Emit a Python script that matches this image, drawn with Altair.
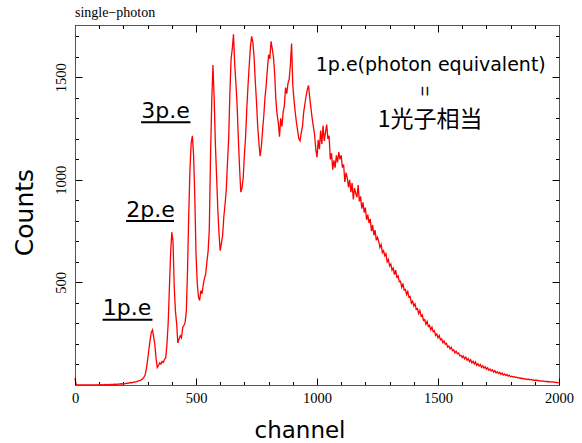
import altair as alt
import pandas as pd

# ---- data (5-channel steps) ----
STEP = 5
counts_low = [35, 0, 0, 0, 0, 0, 0, 0, 0, 0,
              0, 0, 0, 0, 0, 0, 0, 0, 0, 0,
              3, 1, 2, 1, 2, 3, 1, 2, 3, 2,
              3, 2, 4, 3, 4, 3, 5, 4, 6, 5,
              7, 6, 8, 9, 8, 10, 12, 11, 13, 15,
              14, 17, 19, 21, 23, 26, 30, 38, 50, 80]          # ch 0-295
counts_peaks = [120, 170, 215, 255, 268, 235, 195, 130, 85, 95,
                108, 102, 115, 110, 125, 132, 200, 300, 470, 640,
                745, 700, 480, 360, 300, 205, 225, 240, 230, 280,
                290, 305, 360, 560, 830, 1050, 1180, 1215, 1120, 920,
                640, 500, 430, 412, 460, 445, 490, 520, 540, 600,
                650, 760, 1110, 1380, 1560, 1400, 1180, 1020, 860, 740,
                655, 690, 730, 820, 880, 950, 1080, 1200, 1420, 1590,
                1640, 1710, 1560, 1470, 1360, 1200, 1060, 940, 960, 1010,
                1120, 1210, 1350, 1460, 1560, 1650, 1700, 1670, 1600, 1480,
                1380, 1260, 1180, 1115, 1160, 1240, 1310, 1400, 1460, 1540,
                1610, 1590, 1675, 1640, 1600, 1520, 1390, 1320, 1280, 1210,
                1300, 1260, 1330, 1360, 1450, 1420, 1470, 1490, 1560, 1665,
                1460, 1390, 1330, 1280, 1240, 1200, 1190, 1230, 1260, 1330,
                1370, 1410, 1440, 1460, 1400, 1350, 1300, 1260, 1220, 1150]  # ch 300-995
counts_tail = [1110, 1195, 1150, 1240, 1175, 1265, 1190, 1230, 1270, 1200,
               1215, 1100, 1130, 1050, 1095, 1060, 1120, 1085, 1135, 1100,
               1120, 1060, 1075, 990, 1035, 1010, 965, 1000, 940, 985,
               905, 960, 935, 915, 975, 895, 920, 860, 890, 840,
               865, 805, 830, 790, 810, 750, 780, 730, 755, 705,
               720, 700, 670, 685, 645, 655, 630, 640, 600, 612,
               580,
               590, 560, 570, 538, 560, 526, 532, 503, 506, 477,
               495, 464, 466, 441, 456, 428, 431, 399, 409, 385,
               396, 369, 373, 348, 363, 336, 341, 315, 319, 296,
               310, 285, 291, 269, 282, 260, 265, 241, 249, 230,
               241, 220, 225, 206, 215, 199, 203, 185, 190, 176,
               184, 167, 172, 157, 165, 152, 156, 142, 145, 134,
               141, 127, 136, 121, 129, 114, 123, 108, 116, 103,
               112, 96, 104, 92, 100, 86, 94, 82, 89, 77,
               84, 72, 78, 68, 74, 63, 70, 59, 65, 56,
               62, 52, 58, 49, 54, 46, 51, 43, 48, 40,
               43, 39, 40, 37, 38, 34, 36, 32, 34, 30,
               32, 28, 30, 27, 28, 25, 27, 24, 25, 22,
               24, 21, 22, 19, 21, 18, 20, 17, 19, 16,
               17, 15, 16, 14, 16, 13, 14, 12, 13, 11]            # ch 1000-2000

segments = [(0, counts_low), (300, counts_peaks), (1000, counts_tail)]
rows = []
for start, vals in segments:
    for i, v in enumerate(vals):
        rows.append({"channel": start + STEP * i, "counts": v})
df = pd.DataFrame(rows)

# annotations (data coordinates)
pe_labels = ["1p.e", "2p.e", "3p.e"]
pe_x = [115, 212, 274]
pe_y = [342, 818, 1300]
pe_line_x2 = [320, 409, 477]
pe_line_y = [318, 800, 1281]
pe_df = pd.DataFrame({"t": pe_labels, "x": pe_x, "y": pe_y,
                      "x2": pe_line_x2, "uy": pe_line_y})
pe_df["ux"] = [v - 1 for v in pe_x]

note_df = pd.DataFrame({"t": ["1p.e(photon equivalent)"], "x": [1470], "y": [1532]})
eq_df = pd.DataFrame({"t": ["="], "x": [1444], "y": [1433]})
jp_df = pd.DataFrame({"t": ["1光子相当"], "x": [1467], "y": [1292]})

x_major = [0, 500, 1000, 1500, 2000]
x_minor = list(range(0, 2001, 100))
y_major = [500, 1000, 1500]
y_minor = list(range(100, 1701, 100))

xs = alt.Scale(domain=[0, 2000], nice=False, zero=False)
ys = alt.Scale(domain=[0, 1755], nice=False, zero=False)

DOM = "#555555"


def tick_axis(orient, values, size, domain=False):
    return alt.Axis(orient=orient, values=values, tickSize={"expr": str(-size)},
                    labels=False, domain=domain, domainColor=DOM, grid=False,
                    tickColor="black", tickWidth=1, title=None)


main = alt.Chart(df).mark_line(color="#ff0000", strokeWidth=1.3).encode(
    x=alt.X("channel:Q", scale=xs, axis=alt.Axis(
        orient="bottom", values=x_major, format="d", tickSize={"expr": "-7"},
        tickColor="black",
        labelPadding=13.3, labelFont="Liberation Serif", labelFontSize=14.5,
        labelColor="black", labelFlush=False, labelOverlap=False,
        domain=True, domainColor=DOM, grid=False, zindex=1,
        title="channel", titleFont="DejaVu Sans", titleFontSize=23,
        titleFontWeight="normal", titleColor="black", titleX=224.5, titleY=52,
        titleBaseline="alphabetic", titleAlign="center")),
    y=alt.Y("counts:Q", scale=ys, axis=alt.Axis(
        orient="left", values=y_major, format="d", tickSize={"expr": "-7"},
        tickColor="black",
        labelPadding=16.5, labelFont="Liberation Serif", labelFontSize=14.5,
        labelColor="black", labelAngle=270, labelAlign="center",
        labelBaseline="alphabetic", labelFlush=False, labelOverlap=False,
        domain=True, domainColor=DOM, grid=False,
        title="Counts", titleFont="DejaVu Sans", titleFontSize=25,
        titleFontWeight="normal", titleColor="black", titleAngle=270,
        titleX=-42.5, titleY=187, titleBaseline="alphabetic", titleAlign="center")),
)

ghost = alt.Chart(df).mark_line(opacity=0)
minor_bl = ghost.encode(
    x=alt.X("channel:Q", scale=xs, axis=tick_axis("bottom", x_minor, 3.5)),
    y=alt.Y("counts:Q", scale=ys, axis=tick_axis("left", y_minor, 3.5)),
)
major_tr = ghost.encode(
    x=alt.X("channel:Q", scale=xs, axis=tick_axis("top", x_major, 7, domain=True)),
    y=alt.Y("counts:Q", scale=ys, axis=tick_axis("right", y_major, 7, domain=True)),
)
minor_tr = ghost.encode(
    x=alt.X("channel:Q", scale=xs, axis=tick_axis("top", x_minor, 3.5)),
    y=alt.Y("counts:Q", scale=ys, axis=tick_axis("right", y_minor, 3.5)),
)

pe_text = alt.Chart(pe_df).mark_text(
    font="DejaVu Sans", fontSize=22, align="left", baseline="alphabetic", color="black"
).encode(
    x=alt.X("x:Q", scale=xs, axis=None),
    y=alt.Y("y:Q", scale=ys, axis=None),
    text="t:N",
)
pe_rule = alt.Chart(pe_df).mark_rule(color="black", strokeWidth=2).encode(
    x=alt.X("ux:Q", scale=xs, axis=None),
    x2="x2:Q",
    y=alt.Y("uy:Q", scale=ys, axis=None),
)
note_text = alt.Chart(note_df).mark_text(
    font="DejaVu Sans", fontSize=19, align="center", baseline="alphabetic", color="black"
).encode(
    x=alt.X("x:Q", scale=xs, axis=None),
    y=alt.Y("y:Q", scale=ys, axis=None),
    text="t:N",
)
eq_text = alt.Chart(eq_df).mark_text(
    font="Liberation Sans", fontSize=18, align="center", baseline="middle",
    angle=90, color="black"
).encode(
    x=alt.X("x:Q", scale=xs, axis=None),
    y=alt.Y("y:Q", scale=ys, axis=None),
    text="t:N",
)
jp_text = alt.Chart(jp_df).mark_text(
    font="Noto Sans CJK JP", fontSize=23, align="center", baseline="middle", color="black"
).encode(
    x=alt.X("x:Q", scale=xs, axis=None),
    y=alt.Y("y:Q", scale=ys, axis=None),
    text="t:N",
)

chart = alt.layer(
    minor_bl, major_tr, minor_tr, main, pe_text, pe_rule, note_text, eq_text, jp_text
).resolve_axis(
    x="independent", y="independent"
).properties(
    width=484, height=360,
    autosize=alt.AutoSizeParams(type="none"),
    padding={"left": 75, "top": 25, "right": 23, "bottom": 58},
    title=alt.TitleParams(
        text="single−photon", anchor="start", frame="group",
        font="Liberation Serif", fontSize=14, fontWeight="normal",
        color="black", offset=8, dy=14, baseline="alphabetic"),
).configure_view(stroke=None).configure(background="white")

chart.save("out.html", embed_options={"renderer": "svg", "actions": False})
